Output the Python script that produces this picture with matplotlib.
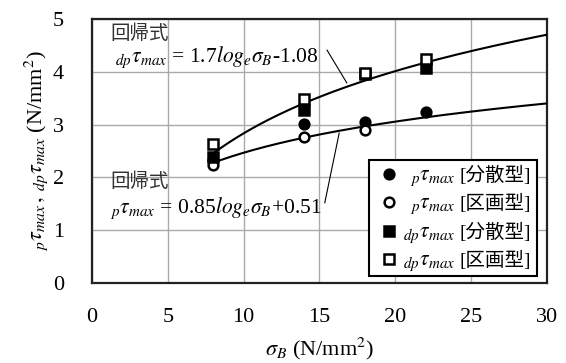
import numpy as np
import matplotlib
matplotlib.use('Agg')
import matplotlib.pyplot as plt
from matplotlib import font_manager

names = font_manager.get_font_names()
serif = 'Liberation Serif'
for f in ['Liberation Serif', 'Times New Roman', 'Nimbus Roman', 'DejaVu Serif']:
    if f in names:
        serif = f
        break
plt.rcParams['font.family'] = [serif, 'Noto Sans CJK JP']
plt.rcParams['mathtext.fontset'] = 'stix'

# measured points (sigma_B vs tau_max)
sigma_b = [8, 14, 18, 22]
p_tau_bunsan = [2.33, 3.01, 3.05, 3.23]      # filled circle
p_tau_kukaku = [2.23, 2.77, 2.90]            # open circle (no point at 22)
dp_tau_bunsan = [2.39, 3.28, 3.95, 4.08]     # filled square
dp_tau_kukaku = [2.63, 3.48, 3.98, 4.24]     # open square

# regression coefficients: tau = a*ln(sigma_B) + b
dp_coef = [1.7, -1.08]
p_coef = [0.85, 0.51]
fit_range = [8, 30]

leg_math = [r'$_{p}\tau_{max}$', r'$_{p}\tau_{max}$', r'$_{dp}\tau_{max}$', r'$_{dp}\tau_{max}$']
leg_type = ['[分散型]', '[区画型]', '[分散型]', '[区画型]']

fig = plt.figure(figsize=(5.66, 3.63), dpi=100)
ax = fig.add_axes([0.1625, 0.2204, 0.8039, 0.7273])

xs = np.linspace(fit_range[0], fit_range[1], 200)
ax.plot(xs, dp_coef[0]*np.log(xs) + dp_coef[1], color='black', lw=1.5, zorder=3)
ax.plot(xs, p_coef[0]*np.log(xs) + p_coef[1], color='black', lw=1.5, zorder=3)

mk = dict(linestyle='none', markeredgecolor='black', markeredgewidth=1.8, zorder=4)
ax.plot(sigma_b, p_tau_bunsan, marker='o', markersize=7, markerfacecolor='black',
        label=leg_type[0], **mk)
ax.plot(sigma_b[:3], p_tau_kukaku, marker='o', markersize=7, markerfacecolor='white',
        label=leg_type[1], **mk)
ax.plot(sigma_b, dp_tau_bunsan, marker='s', markersize=7.5, markerfacecolor='black',
        label=leg_type[2], **mk)
ax.plot(sigma_b, dp_tau_kukaku, marker='s', markersize=7.5, markerfacecolor='white',
        label=leg_type[3], **mk)

ax.set_xlim(0, 30)
ax.set_ylim(0, 5)
ax.set_xticks(range(0, 31, 5))
ax.set_yticks(range(0, 6))
ax.grid(True, color='#aaaaaa', lw=1.0)
ax.set_axisbelow(True)
ax.tick_params(length=0, labelsize=16)
ax.tick_params(axis='x', pad=18)
ax.tick_params(axis='y', pad=20)
for s in ax.spines.values():
    s.set_linewidth(1.6)
    s.set_color('#222222')

ax.set_xlabel(r'$\sigma_B$ (N/mm$^2$)', fontsize=16, labelpad=6)
ax.set_ylabel(r'$_{p}\tau_{max}\,,\,_{dp}\tau_{max}$ (N/mm$^2$)', fontsize=16, labelpad=2)

# regression annotations
ax.text(1.2, 4.63, '回帰式', fontsize=14, color='#333333')
ax.text(1.5, 4.19, r'$_{dp}\tau_{max}$ = 1.7$log_e\sigma_B$-1.08', fontsize=15.5)
ax.plot([15.5, 16.8], [4.41, 3.79], color='black', lw=0.8)
ax.text(1.2, 1.82, '回帰式', fontsize=14, color='#333333')
ax.text(1.2, 1.33, r'$_{p}\tau_{max}$ = 0.85$log_e\sigma_B$+0.51', fontsize=15.5)
ax.plot([15.35, 16.3], [1.52, 2.84], color='black', lw=0.8)

leg = ax.legend(loc='lower right', bbox_to_anchor=(0.978, 0.027), fontsize=14,
                frameon=True, fancybox=False, edgecolor='black', framealpha=1,
                handletextpad=2.9, labelspacing=0.48, borderpad=0.3,
                handlelength=1.45, borderaxespad=0)
leg.get_frame().set_linewidth(1.5)

# math part of each legend entry, placed in the gap before the bracket text
fig.canvas.draw()
renderer = fig.canvas.get_renderer()
for txt, m in zip(leg.get_texts(), leg_math):
    bb = txt.get_window_extent(renderer)
    fig.text((bb.x0 - 4) / fig.bbox.width, (bb.y0 + bb.y1) / 2 / fig.bbox.height - 0.008,
             m, fontsize=15.5, va='center', ha='right', zorder=10)

fig.savefig('out.png', dpi=100)
